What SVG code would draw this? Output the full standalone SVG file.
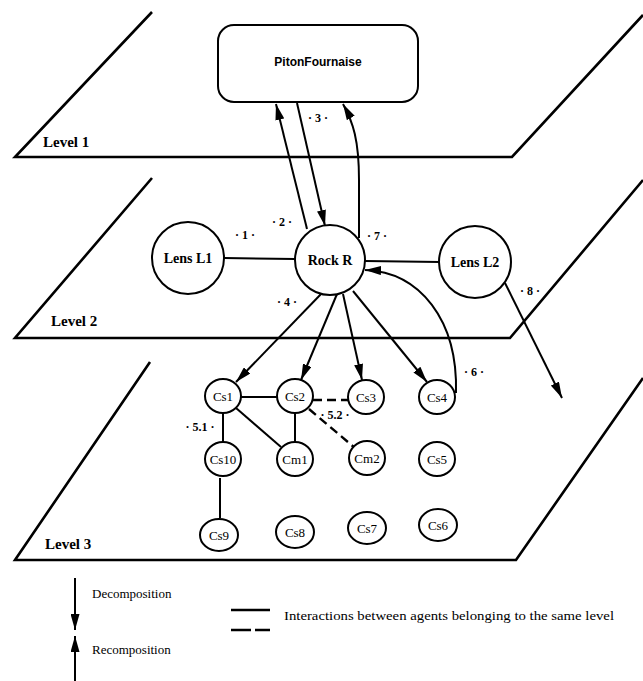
<svg xmlns="http://www.w3.org/2000/svg" width="643" height="681" viewBox="0 0 643 681">
  <defs>
    <marker id="ah" viewBox="0 0 16 9" refX="16" refY="4.5" markerWidth="16" markerHeight="9" markerUnits="userSpaceOnUse" orient="auto">
      <path d="M0,0 L16,4.5 L0,9 z" fill="#000"/>
    </marker>
    <style>
      .plane { fill: none; stroke: #000; stroke-width: 2.6; stroke-linejoin: miter; }
      .node { fill: #fff; stroke: #000; stroke-width: 2; }
      .edge { fill: none; stroke: #000; stroke-width: 2; }
      .dash { fill: none; stroke: #000; stroke-width: 2.4; stroke-dasharray: 9 5; }
      .arrow { fill: none; stroke: #000; stroke-width: 2; marker-end: url(#ah); }
      .lvl { font-family: "Liberation Serif", serif; font-weight: bold; font-size: 15px; fill: #000; }
      .big { font-family: "Liberation Serif", serif; font-weight: bold; font-size: 14px; fill: #000; text-anchor: middle; }
      .small { font-family: "Liberation Serif", serif; font-size: 13px; fill: #000; text-anchor: middle; }
      .num { font-family: "Liberation Serif", serif; font-weight: bold; font-size: 12px; fill: #000; text-anchor: middle; }
      .leg { font-family: "Liberation Serif", serif; font-size: 13px; fill: #000; }
    </style>
  </defs>

  <!-- three stacked level planes -->
  <g id="planes">
    <polyline class="plane" points="152,12 15,157 512,157 643,15"/>
    <polyline class="plane" points="152,178 15,338 510,338 643,180"/>
    <polyline class="plane" points="150,362 15,560 516,560 643,378"/>
    <text class="lvl" x="43" y="147">Level 1</text>
    <text class="lvl" x="51" y="326">Level 2</text>
    <text class="lvl" x="45" y="549">Level 3</text>
  </g>

  <!-- connectors -->
  <g id="connectors">
    <!-- same-level interactions -->
    <line class="edge" x1="224" y1="258" x2="295" y2="259"/>
    <line class="edge" x1="365" y1="261" x2="440" y2="262"/>
    <line class="edge" x1="241" y1="397" x2="277" y2="397"/>
    <line class="dash" x1="313" y1="400" x2="348" y2="400"/>
    <line class="edge" x1="223" y1="413" x2="223" y2="442"/>
    <line class="edge" x1="236" y1="408" x2="281" y2="447"/>
    <line class="edge" x1="295" y1="413" x2="295" y2="442"/>
    <line class="dash" x1="309" y1="409" x2="355" y2="448"/>
    <line class="edge" x1="220" y1="478" x2="220" y2="518"/>

    <!-- decomposition / recomposition -->
    <line class="arrow" x1="307" y1="229" x2="276" y2="104"/>
    <line class="arrow" x1="297" y1="103" x2="325" y2="226"/>
    <path class="arrow" d="M359,238 L359,180 C359,140 353,122 343,104"/>
    <line class="arrow" x1="322" y1="293" x2="236" y2="382"/>
    <line class="arrow" x1="337" y1="294" x2="301" y2="380"/>
    <line class="arrow" x1="343" y1="294" x2="362" y2="380"/>
    <line class="arrow" x1="353" y1="291" x2="427" y2="382"/>
    <path class="arrow" d="M456,393 C458,320 420,272 365,270"/>
    <line class="arrow" x1="505" y1="283" x2="562" y2="398"/>

    <!-- interaction numbers -->
    <text class="num" x="318" y="122">· 3 ·</text>
    <text class="num" x="282" y="226">· 2 ·</text>
    <text class="num" x="245" y="239">· 1 ·</text>
    <text class="num" x="377" y="240">· 7 ·</text>
    <text class="num" x="287" y="306">· 4 ·</text>
    <text class="num" x="530" y="295">· 8 ·</text>
    <text class="num" x="474" y="376">· 6 ·</text>
    <text class="num" x="200" y="431">· 5.1 ·</text>
    <text class="num" x="335" y="419">· 5.2 ·</text>
  </g>

  <!-- level 1 -->
  <g id="piton">
    <rect class="node" x="218" y="25" width="200" height="77" rx="16"/>
    <text x="318" y="66" style="font-family:'Liberation Sans',sans-serif;font-weight:bold;font-size:12px;text-anchor:middle">PitonFournaise</text>
  </g>

  <!-- level 2 -->
  <g id="lensL1">
    <circle class="node" cx="188" cy="258" r="36"/>
    <text class="big" x="188" y="263">Lens L1</text>
  </g>
  <g id="rockR">
    <circle class="node" cx="330" cy="260" r="35"/>
    <text class="big" x="330" y="265">Rock R</text>
  </g>
  <g id="lensL2">
    <circle class="node" cx="475" cy="262" r="36"/>
    <text class="big" x="475" y="267">Lens L2</text>
  </g>

  <!-- level 3 -->
  <g id="cs1"><ellipse class="node" cx="223" cy="396" rx="18" ry="17"/><text class="small" x="223" y="401">Cs1</text></g>
  <g id="cs2"><ellipse class="node" cx="295" cy="396" rx="18" ry="17"/><text class="small" x="295" y="401">Cs2</text></g>
  <g id="cs3"><ellipse class="node" cx="366" cy="397" rx="18" ry="17"/><text class="small" x="366" y="402">Cs3</text></g>
  <g id="cs4"><ellipse class="node" cx="437" cy="397" rx="18" ry="17"/><text class="small" x="437" y="402">Cs4</text></g>
  <g id="cs10"><ellipse class="node" cx="223" cy="459" rx="18" ry="17"/><text class="small" x="223" y="464">Cs10</text></g>
  <g id="cm1"><ellipse class="node" cx="295" cy="459" rx="18" ry="17"/><text class="small" x="295" y="464">Cm1</text></g>
  <g id="cm2"><ellipse class="node" cx="367" cy="458" rx="18" ry="17"/><text class="small" x="367" y="463">Cm2</text></g>
  <g id="cs5"><ellipse class="node" cx="437" cy="459" rx="18" ry="17"/><text class="small" x="437" y="464">Cs5</text></g>
  <g id="cs9"><ellipse class="node" cx="219" cy="535" rx="19" ry="16"/><text class="small" x="219" y="540">Cs9</text></g>
  <g id="cs8"><ellipse class="node" cx="295" cy="532" rx="19" ry="16"/><text class="small" x="295" y="537">Cs8</text></g>
  <g id="cs7"><ellipse class="node" cx="367" cy="528" rx="19" ry="16"/><text class="small" x="367" y="533">Cs7</text></g>
  <g id="cs6"><ellipse class="node" cx="438" cy="525" rx="19" ry="16"/><text class="small" x="438" y="530">Cs6</text></g>

  <!-- legend -->
  <g id="legend">
    <line class="arrow" x1="75" y1="578" x2="75" y2="630"/>
    <text class="leg" x="92" y="598">Decomposition</text>
    <line class="arrow" x1="75" y1="681" x2="75" y2="636"/>
    <text class="leg" x="92" y="654">Recomposition</text>
    <line class="edge" x1="231" y1="610" x2="270" y2="610" style="stroke-width:2.4"/>
    <line class="dash" x1="231" y1="630" x2="270" y2="630" style="stroke-dasharray:20 4"/>
    <text class="leg" x="284" y="620" textLength="330" lengthAdjust="spacingAndGlyphs">Interactions between agents belonging to the same level</text>
  </g>
</svg>
